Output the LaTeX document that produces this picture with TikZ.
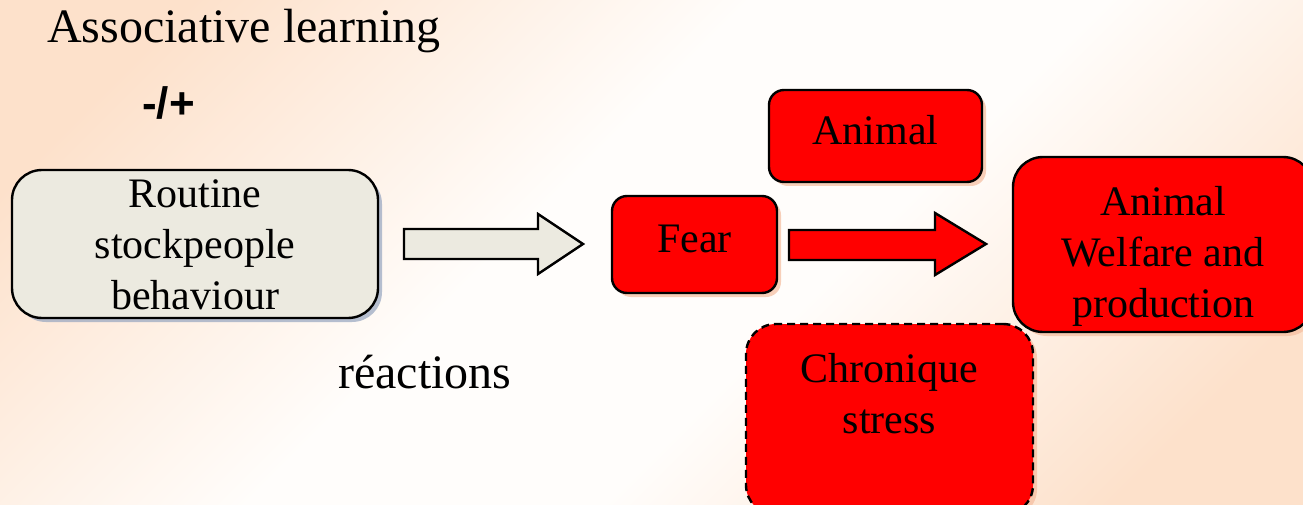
\documentclass[tikz,border=0pt]{standalone}
\usepackage{fontspec}
\setmainfont{Liberation Serif}
\newfontfamily\arialfont{Liberation Sans}
\usetikzlibrary{shadows}
\definecolor{peach}{RGB}{253,225,203}
\definecolor{bgwhite}{RGB}{255,253,251}
\definecolor{boxgrey}{RGB}{236,234,224}
\definecolor{bluesh}{RGB}{150,165,192}
\definecolor{peachsh}{RGB}{245,188,158}
\definecolor{boxred}{RGB}{255,0,0}
\pgfdeclarehorizontalshading{bgshade}{100bp}{color(0bp)=(peach); color(22bp)=(peach); color(44bp)=(bgwhite); color(58bp)=(bgwhite); color(78bp)=(peach); color(100bp)=(peach)}
\begin{document}
\begin{tikzpicture}[x=1pt,y=-1pt,
  lbl/.style={font=\fontsize{48}{56}\selectfont, inner sep=0pt, anchor=base west},
  boxtxt/.style={font=\fontsize{42}{51}\selectfont, align=center, inner sep=0pt},
  greybox/.style={draw=black, line width=2.4pt, fill=boxgrey, rounded corners=30pt, inner sep=0pt,
    drop shadow={shadow xshift=4pt, shadow yshift=-4pt, fill=bluesh, opacity=0.7}},
  redbox/.style={draw=black, line width=2.4pt, fill=boxred, inner sep=0pt,
    drop shadow={shadow xshift=4pt, shadow yshift=-4pt, fill=peachsh, opacity=0.7}},
  blockarrow/.style={draw=black, line width=2.4pt, line join=miter}
]
\useasboundingbox (0,0) rectangle (1303,505);
\begin{scope}
\clip (0,0) rectangle (1303,505);
\shade[shading=bgshade, shading angle=-45] (0,0) rectangle (1303,505);

% free labels
\node[lbl] (assoc) at (47,43) {Associative learning};
\node[lbl, font=\arialfont\bfseries\fontsize{44}{52}\selectfont] (sign) at (142,119) {-/+};
\node[lbl] (react) at (338,388) {réactions};

% routine box
\node[greybox, minimum width=366pt, minimum height=148pt] (routine) at (195,244) {};
\node[boxtxt] (routinetxt) at (195,245) {Routine\\stockpeople\\behaviour};

% hollow block arrow
\draw[blockarrow, fill=boxgrey] (404,229) -- (538,229) -- (538,214) -- (583,244) -- (538,274) -- (538,259) -- (404,259) -- cycle;

% fear and animal
\node[redbox, rounded corners=15pt, minimum width=165pt, minimum height=97pt] (fear) at (694.5,244.5) {};
\node[boxtxt, anchor=base] (feartxt) at (694.5,252) {Fear};
\node[redbox, rounded corners=15pt, minimum width=213pt, minimum height=92pt] (animal) at (875.5,136) {};
\node[boxtxt, anchor=base] (animaltxt) at (875.5,145) {Animal};

% red block arrow
\draw[blockarrow, fill=boxred] (789,230) -- (935,230) -- (935,213) -- (986,244) -- (935,275) -- (935,260) -- (789,260) -- cycle;

% chronique stress
\node[redbox, rounded corners=30pt, dash pattern=on 8pt off 5pt, minimum width=287pt, minimum height=191pt] (chron) at (889.5,419.5) {};
\node[boxtxt] (chrontxt) at (889.5,394) {Chronique\\stress};

% welfare box
\node[redbox, rounded corners=30pt, minimum width=300pt, minimum height=175pt] (welfare) at (1163,244.5) {};
\node[boxtxt] (welfaretxt) at (1163,256) {Animal\\Welfare and\\production};
\end{scope}
\end{tikzpicture}
\end{document}
